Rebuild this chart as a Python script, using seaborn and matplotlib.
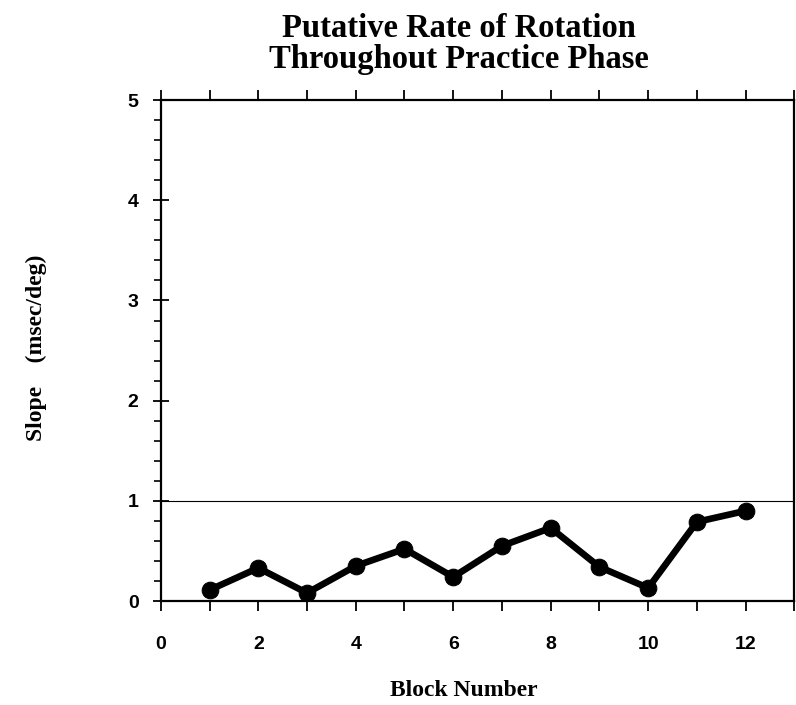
import matplotlib
matplotlib.use("Agg")
import matplotlib.pyplot as plt
import seaborn as sns
import pandas as pd
from matplotlib.ticker import MultipleLocator

blocks = [1, 2, 3, 4, 5, 6, 7, 8, 9, 10, 11, 12]
slope = [0.11, 0.33, 0.08, 0.35, 0.52, 0.24, 0.55, 0.73, 0.34, 0.13, 0.79, 0.90]
x_ticklabels = ["0", "2", "4", "6", "8", "10", "12"]
y_ticklabels = ["0", "1", "2", "3", "4", "5"]

df = pd.DataFrame({"Block": blocks, "Slope": slope})

sns.set_style("ticks", {"text.color": "black", "axes.labelcolor": "black",
                        "xtick.color": "black", "ytick.color": "black",
                        "axes.edgecolor": "black"})
plt.rcParams["font.family"] = ["Liberation Sans", "DejaVu Sans"]

fig = plt.figure(figsize=(7.96, 7.05), dpi=100)
ax = fig.add_axes([0.202, 0.1475, 0.796, 0.7105])

ax.axhline(1, color="black", lw=0.8, zorder=1)
sns.lineplot(data=df, x="Block", y="Slope", ax=ax, color="black", lw=4.8,
             marker="o", markersize=12, markeredgecolor="black", zorder=3)

ax.set_xlim(0, 13)
ax.set_ylim(0, 5)
ax.set_xticks([0, 2, 4, 6, 8, 10, 12])
ax.set_xticklabels(x_ticklabels)
ax.xaxis.set_minor_locator(MultipleLocator(1))
ax.set_yticks([0, 1, 2, 3, 4, 5])
ax.set_yticklabels(y_ticklabels)
ax.yaxis.set_minor_locator(MultipleLocator(0.2))

for s in ax.spines.values():
    s.set_linewidth(1.6)
    s.set_color("black")

ax.tick_params(axis="x", which="both", direction="out", length=7, width=1.3,
               top=True, labelsize=14, pad=18, colors="black")
ax.tick_params(axis="y", which="major", direction="inout", length=12, width=1.3,
               labelsize=14, pad=10, colors="black")
ax.tick_params(axis="y", which="minor", direction="out", length=5, width=1.2)
for lab in ax.get_xticklabels() + ax.get_yticklabels():
    lab.set_fontweight("bold")

ax.set_xlabel("Block Number", fontsize=17, fontweight="bold", color="black",
              family=["Liberation Serif"])
ax.xaxis.set_label_coords(0.478, -0.158)
ax.set_ylabel("Slope    (msec/deg)", fontsize=17, fontweight="bold", color="black",
              family=["Liberation Serif"])
ax.yaxis.set_label_coords(-0.18, 0.505)
ax.set_title("Putative Rate of Rotation\nThroughout Practice Phase",
             fontsize=23.5, fontweight="bold", family=["Liberation Serif"],
             color="black", x=0.47, pad=23, linespacing=1.0)

fig.savefig("out.png", dpi=100, facecolor="white")
